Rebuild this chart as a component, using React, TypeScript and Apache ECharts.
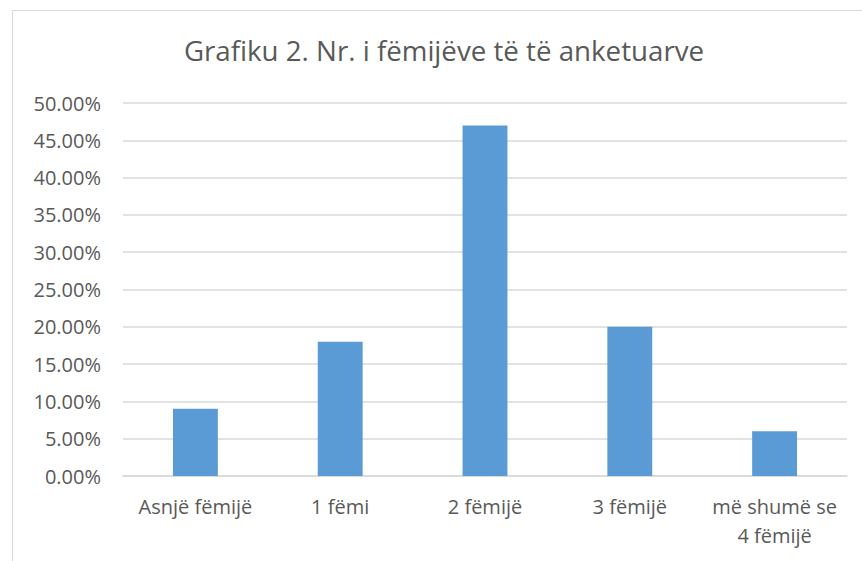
import React, { useEffect, useRef } from "react";
import * as echarts from "echarts";

const titleText = "Grafiku 2. Nr. i fëmijëve të të anketuarve";
const categories = ["Asnjë fëmijë", "1 fëmi", "2 fëmijë", "3 fëmijë", "më shumë se 4 fëmijë"];
const values = [0.09, 0.18, 0.47, 0.2, 0.06];
const yMin = 0;
const yMax = 0.5;
const yStep = 0.05;

const FONT = "Open Sans";
const TEXT = "#595959";

export default function App() {
  const ref = useRef<HTMLDivElement>(null);
  useEffect(() => {
    if (!ref.current) return;
    const chart = echarts.init(ref.current, undefined, { renderer: "svg" });
    chart.setOption({
      animation: false,
      backgroundColor: "#ffffff",
      title: {
        text: titleText,
        left: 439,
        top: 31,
        textAlign: "center",
        textStyle: { fontFamily: FONT, fontSize: 27.7, fontWeight: "normal", color: TEXT },
      },
      graphic: [
        {
          type: "rect",
          shape: { x: 12.5, y: 10.5, width: 900, height: 600 },
          style: { fill: "none", stroke: "#d9d9d9", lineWidth: 1 },
          silent: true,
        },
      ],
      grid: { left: 123, right: 15, top: 103, bottom: 85, containLabel: false },
      xAxis: {
        type: "category",
        data: categories,
        axisLine: { show: true, lineStyle: { color: "#d9d9d9", width: 1.5 } },
        axisTick: { show: false },
        axisLabel: {
          interval: 0,
          margin: 16,
          fontFamily: FONT,
          fontSize: 20,
          color: TEXT,
          lineHeight: 29,
          formatter: (v: string) => (v === "më shumë se 4 fëmijë" ? "më shumë se\n4 fëmijë" : v),
        },
      },
      yAxis: {
        type: "value",
        min: yMin,
        max: yMax,
        interval: yStep,
        axisLine: { show: false },
        axisTick: { show: false },
        splitLine: { lineStyle: { color: "#d9d9d9", width: 1.5 } },
        axisLabel: {
          margin: 22,
          fontFamily: FONT,
          fontSize: 20,
          color: TEXT,
          formatter: (v: number) => (v * 100).toFixed(2) + "%",
        },
      },
      series: [
        {
          type: "bar",
          data: values,
          barWidth: "31%",
          itemStyle: { color: "#5b9bd5" },
        },
      ],
    });
    return () => chart.dispose();
  }, []);
  return (
    <div
      ref={ref}
      style={{ position: "absolute", left: 0, top: 0, width: 862, height: 561 }}
    />
  );
}
